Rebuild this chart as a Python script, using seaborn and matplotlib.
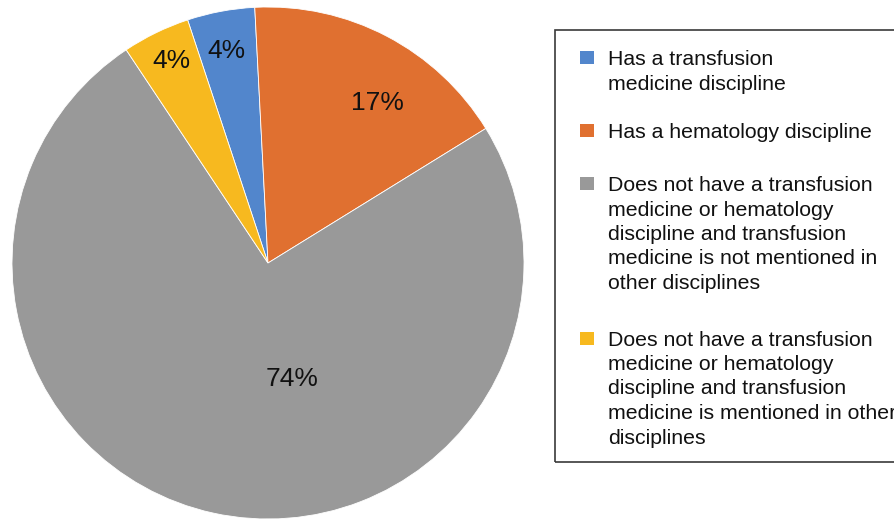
import matplotlib
matplotlib.use("Agg")
import matplotlib.pyplot as plt
from matplotlib.patches import Rectangle
import numpy as np
import seaborn as sns

# ---- data ----
categories = [
    "Has a transfusion\nmedicine discipline",
    "Has a hematology discipline",
    "Does not have a transfusion\nmedicine or hematology\ndiscipline and transfusion\nmedicine is not mentioned in\nother disciplines",
    "Does not have a transfusion\nmedicine or hematology\ndiscipline and transfusion\nmedicine is mentioned in other\ndisciplines",
]
shares = [4.26, 17.02, 74.47, 4.26]
pct_labels = ["4%", "17%", "74%", "4%"]
colors = ["#5286CC", "#E07030", "#999999", "#F7B91F"]

# ---- style ----
sns.set_theme(style="white")
plt.rcParams["font.family"] = ["Liberation Sans", "DejaVu Sans"]

W, H = 894, 519
fig = plt.figure(figsize=(W / 100, H / 100), dpi=100)
fig.patch.set_facecolor("white")

# pie axes: centre (268, 263) px, radius 256 px
cx, cy, R = 268, 263, 256
ax = fig.add_axes([(cx - R) / W, 1 - (cy + R) / H, 2 * R / W, 2 * R / H])
wedges, _ = ax.pie(
    shares,
    colors=colors,
    startangle=108.3,
    counterclock=False,
    radius=1.0,
    wedgeprops=dict(edgecolor="white", linewidth=0.6),
)
ax.set_xlim(-1, 1)
ax.set_ylim(-1, 1)
ax.set_aspect("equal")
ax.axis("off")

# label placement (radius fraction, angle offset in deg)
label_r = [0.855, 0.765, 0.455, 0.883]
label_dt = [0.4, -6.3, 24.4, -0.6]
pct_fs = 19
cap_off = 9.5 / R  # half cap height in data units
for w, lab, r, dt in zip(wedges, pct_labels, label_r, label_dt):
    mid = np.deg2rad((w.theta1 + w.theta2) / 2 + dt)
    x, y = r * np.cos(mid), r * np.sin(mid)
    ax.text(x, y - cap_off, lab, ha="center", va="baseline",
            fontsize=pct_fs, color="#111111")

# ---- legend (drawn manually) ----
def fy(py):
    return 1 - py / H

box_left, box_top, box_bottom = 555, 29.5, 462
fig.patches.append(Rectangle((box_left / W, fy(box_bottom)), (W + 20 - box_left) / W,
                             (box_bottom - box_top) / H, transform=fig.transFigure,
                             facecolor="none", edgecolor="#3a3a3a", linewidth=1.2,
                             clip_on=False))

first_baselines = [65, 138, 191, 345.5]
line_h = 24.5
leg_fs = 15.3
for lab, col, base in zip(categories, colors, first_baselines):
    cap_center = base - 7.3
    fig.patches.append(Rectangle((580 / W, fy(cap_center + 6.5)), 14 / W, 13 / H,
                                 transform=fig.transFigure, facecolor=col,
                                 edgecolor="none"))
    for i, line in enumerate(lab.split("\n")):
        fig.text(608 / W, fy(base + i * line_h), line, ha="left", va="baseline",
                 fontsize=leg_fs, color="#111111")

fig.savefig("out.png", dpi=100)
